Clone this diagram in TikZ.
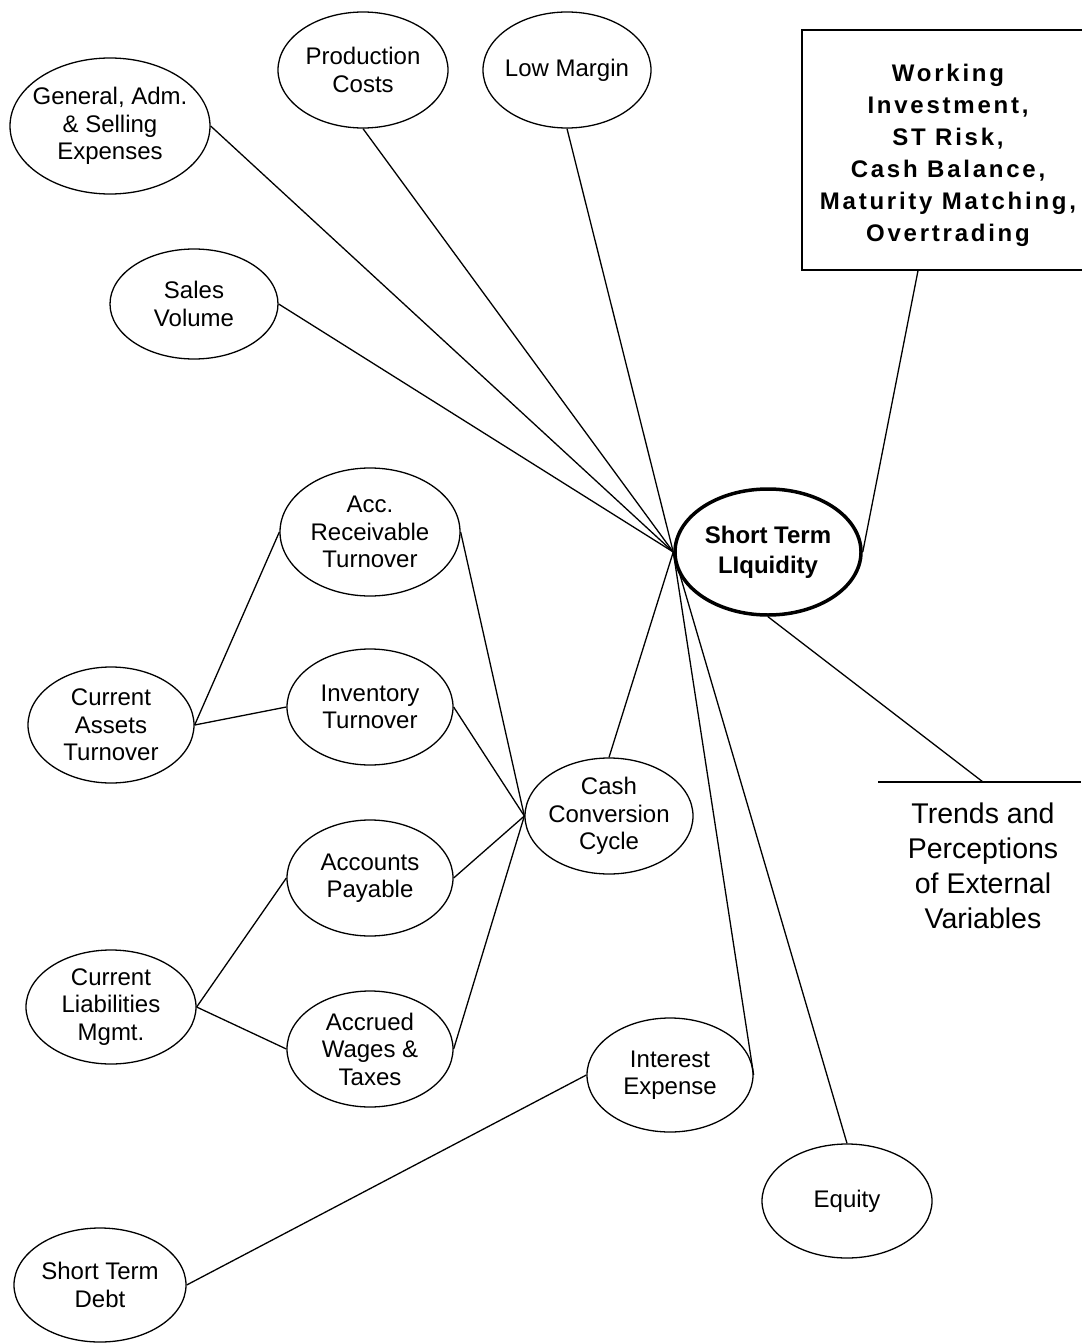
\documentclass[tikz,border=0pt]{standalone}
\usepackage{fontspec}
\setmainfont{Liberation Sans}
\newfontfamily\boxfam[LetterSpace=11.5]{Liberation Sans}
\usepackage{tikz}
\usetikzlibrary{shapes.geometric, positioning}

\newcommand\bubfont{\fontsize{24}{27.5}\selectfont}
\newcommand\stlfont{\bfseries\fontsize{24}{30}\selectfont}
\newcommand\boxfont{\boxfam\bfseries\fontsize{24}{32}\selectfont}
\newcommand\trendfont{\fontsize{28.5}{35}\selectfont}

\tikzset{
  bub/.style 2 args={ellipse, draw, line width=1.3pt, inner xsep=-8pt,
    inner ysep=0pt, minimum width=#1, minimum height=#2,
    align=center, font=\bubfont},
  link/.style={line width=1.3pt},
  wbox/.style={draw, rectangle, line width=1.3pt, minimum width=292pt,
    minimum height=240pt, align=center, font=\boxfont},
  trend/.style={align=center, font=\trendfont, inner sep=0pt}
}

\begin{document}
\begin{tikzpicture}[x=1pt, y=-1pt]
    \useasboundingbox (0,0) rectangle (1081,1343);

    \node[bub={200pt}{136pt}] (gen)   at (110,126)  {General, Adm.\\\& Selling\\Expenses};
    \node[bub={170pt}{116pt}] (prod)  at (363,70)   {Production\\Costs};
    \node[bub={168pt}{116pt}] (low)   at (567,70)   {Low Margin};
    \node[bub={168pt}{110pt}] (sales) at (194,304)  {Sales\\Volume};
    \node[wbox] (work) at (948,150)
      {\rule{0pt}{27.5pt}Working\\Investment,\\ST Risk,\\Cash Balance,\\Maturity Matching,\\Overtrading};

    \node[bub={186pt}{126pt}, line width=3.5pt, font=\stlfont] (stl) at (768,552)
      {Short Term\\LIquidity};

    \node[bub={180pt}{128pt}] (accrec)  at (370,532)  {Acc.\\Receivable\\Turnover};
    \node[bub={166pt}{116pt}] (inv)     at (370,707)  {Inventory\\Turnover};
    \node[bub={166pt}{116pt}] (cura)    at (111,725)  {Current\\Assets\\Turnover};
    \node[bub={168pt}{116pt}] (ccc)     at (609,816)  {Cash\\Conversion\\Cycle};
    \node[bub={166pt}{116pt}] (accpay)  at (370,878)  {Accounts\\Payable};
    \node[bub={170pt}{114pt}] (curl)    at (111,1007) {Current\\Liabilities\\Mgmt.};
    \node[bub={166pt}{116pt}] (accrued) at (370,1049) {Accrued\\Wages \&\\Taxes};
    \node[bub={166pt}{114pt}] (intexp)  at (670,1075) {Interest\\Expense};
    \node[bub={170pt}{114pt}] (equity)  at (847,1201) {Equity};
    \node[bub={172pt}{114pt}] (stdebt)  at (100,1285) {Short Term\\Debt};

    \coordinate (trl) at (878,782);
    \coordinate (trj) at (983,782);
    \coordinate (trr) at (1081,782);
    \node[trend] (trtxt) at (983,866) {Trends and\\Perceptions\\of External\\Variables};

    \draw[link] (gen.east) -- (stl.west);
    \draw[link] (prod.south) -- (stl.west);
    \draw[link] (low.south) -- (stl.west);
    \draw[link] (sales.east) -- (stl.west);
    \draw[link] (ccc.north) -- (stl.west);
    \draw[link] (intexp.east) -- (stl.west);
    \draw[link] (equity.north) -- (stl.west);
    \draw[link] ([xshift=-30pt]work.south) -- (stl.east);
    \draw[link] (stl.south) -- (trj);
    \draw[link] (trl) -- (trr);

    \draw[link] (accrec.east) -- (ccc.west);
    \draw[link] (inv.east) -- (ccc.west);
    \draw[link] (accpay.east) -- (ccc.west);
    \draw[link] (accrued.east) -- (ccc.west);

    \draw[link] (cura.east) -- (accrec.west);
    \draw[link] (cura.east) -- (inv.west);
    \draw[link] (curl.east) -- (accpay.west);
    \draw[link] (curl.east) -- (accrued.west);
    \draw[link] (stdebt.east) -- (intexp.west);
\end{tikzpicture}
\end{document}
